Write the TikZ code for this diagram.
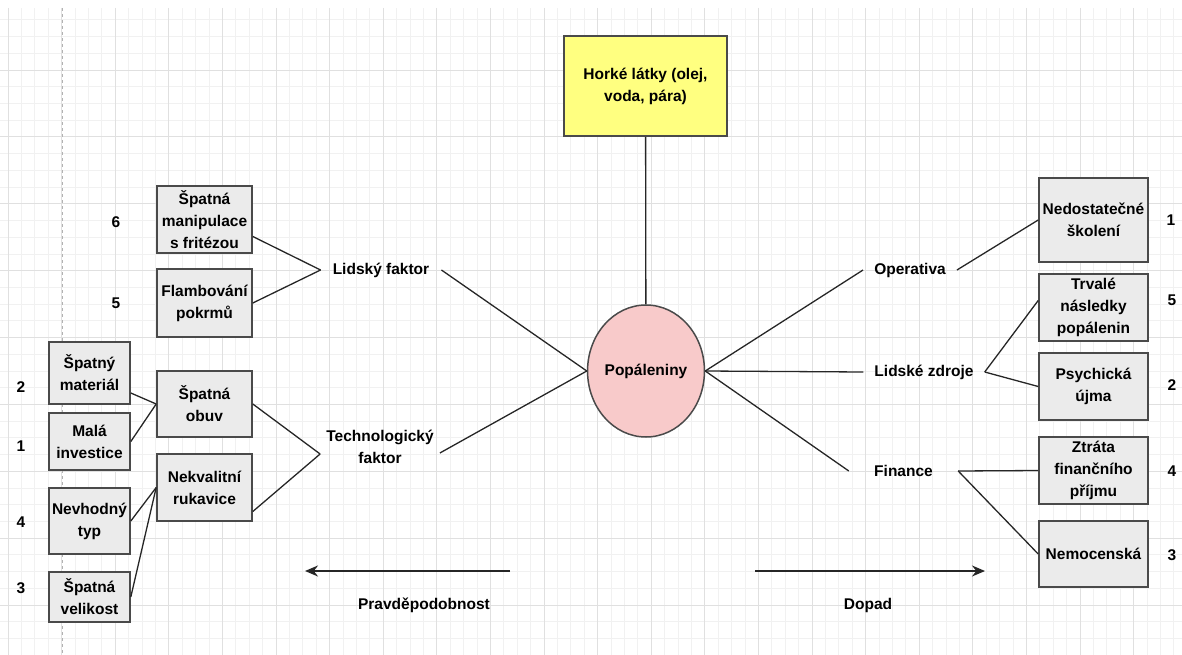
\documentclass[tikz,border=0pt]{standalone}
\usepackage{fontspec}
\setmainfont{Liberation Sans}
\usetikzlibrary{shapes.geometric,arrows.meta,positioning}
\definecolor{gridminor}{HTML}{F1F1F1}
\definecolor{gridmajor}{HTML}{E0E0E0}
\definecolor{boxgray}{HTML}{EBEBEB}
\definecolor{boxline}{HTML}{4A4A4A}
\definecolor{notey}{HTML}{FFFF80}
\definecolor{burnpink}{HTML}{F8CACA}
\newcommand{\gridbg}{%
	\foreach \i in {0,...,87}
		\draw[gridminor,line width=0.8pt] ({8+13.4*\i},8) -- ({8+13.4*\i},655);
	\foreach \j in {1,...,39}
		\draw[gridminor,line width=0.8pt] (0,{3.1+16.72*\j}) -- (1182,{3.1+16.72*\j});
	\foreach \i in {0,4,...,84}
		\draw[gridmajor,line width=0.9pt] ({8+13.4*\i},8) -- ({8+13.4*\i},655);
	\foreach \j in {4,8,...,36}
		\draw[gridmajor,line width=0.9pt] (0,{3.1+16.72*\j}) -- (1182,{3.1+16.72*\j});
	\draw[black!30,line width=1pt,dashed] (62,8) -- (62,655);
}
\newcommand{\score}[3]{%
	\node[inner sep=0pt] (#1) at (#2) {#3};
}

\begin{document}
\begin{tikzpicture}[x=1pt,y=-1pt,
		font=\bfseries\fontsize{15.5}{22}\selectfont,
		riskbox/.style 2 args={draw=boxline,line width=1.6pt,fill=boxgray,align=center,
			inner sep=0pt,minimum width=#1,minimum height=#2},
		lbl/.style={align=center,inner sep=9pt},
		wire/.style={draw=black!85,line width=1.3pt}]
		\useasboundingbox (0,0) rectangle (1182,655);
		\gridbg
		% centre
		\node[draw=boxline,line width=1.6pt,fill=notey,align=center,minimum width=163pt,minimum height=100pt] (hot) at (645.5,86) {Horké látky (olej,\\voda, pára)};
		\node[ellipse,draw=boxline,line width=1.5pt,fill=burnpink,minimum width=110pt,minimum height=132pt,inner sep=0pt] (burn) at (646,371) {Popáleniny};
		% left side
		\node[lbl,inner sep=12pt] (lf) at (381,270) {Lidský faktor};
		\node[lbl,inner sep=6pt] (tf) at (380,447) {Technologický\\faktor};
		\node[riskbox={95pt}{67pt}] (manip) at (204.5,219.5) {Špatná\\manipulace\\s fritézou};
		\node[riskbox={95pt}{68pt}] (flamb) at (204.5,303) {Flambování\\pokrmů};
		\node[riskbox={95pt}{66pt}] (obuv) at (204.5,404) {Špatná\\obuv};
		\node[riskbox={95pt}{67pt}] (ruk) at (204.5,487.5) {Nekvalitní\\rukavice};
		\node[riskbox={81pt}{62pt}] (mat) at (89.5,373) {Špatný\\materiál};
		\node[riskbox={81pt}{57pt}] (inv) at (89.5,441.5) {Malá\\investice};
		\node[riskbox={81pt}{66pt}] (typ) at (89.5,521) {Nevhodný\\typ};
		\node[riskbox={81pt}{50pt}] (vel) at (89.5,597) {Špatná\\velikost};
		\score{s6}{116,222}{6}
		\score{s5}{116,303}{5}
		\score{s2}{21,387}{2}
		\score{s1}{21,446}{1}
		\score{s4}{21,522}{4}
		\score{s3}{21,588}{3}
		% right side
		\node[lbl,inner sep=11pt] (op) at (910,270) {Operativa};
		\node[lbl,inner sep=11pt] (lz) at (924,372) {Lidské zdroje};
		\node[lbl,inner sep=0pt,minimum width=109pt] (fin) at (903.5,471) {Finance};
		\node[riskbox={109pt}{84pt}] (skol) at (1093.5,220) {Nedostatečné\\školení};
		\node[riskbox={109pt}{67pt}] (trv) at (1093.5,307.5) {Trvalé\\následky\\popálenin};
		\node[riskbox={109pt}{67pt}] (psy) at (1093.5,386.5) {Psychická\\újma};
		\node[riskbox={109pt}{67pt}] (ztr) at (1093.5,470.5) {Ztráta\\finančního\\příjmu};
		\node[riskbox={109pt}{66pt}] (nem) at (1093.5,554) {Nemocenská};
		\score{r1}{1171,220}{1}
		\score{r5}{1172,300}{5}
		\score{r2}{1172,385}{2}
		\score{r4}{1172,471}{4}
		\score{r3}{1172,555}{3}
		% links
		\draw[wire] (hot) -- (burn);
		\draw[wire] (lf.east) -- (burn.west);
		\draw[wire] ([yshift=-6pt]tf.east) -- (burn.west);
		\draw[wire] ([yshift=-17pt]manip.east) -- (lf.west);
		\draw[wire] (flamb.east) -- (lf.west);
		\draw[wire] (obuv.east) -- ([yshift=-7pt]tf.west);
		\draw[wire] ([yshift=-24pt]ruk.east) -- ([yshift=-7pt]tf.west);
		\draw[wire] ([yshift=-20pt]mat.east) -- (obuv.west);
		\draw[wire] (inv.east) -- (obuv.west);
		\draw[wire] (typ.east) -- (ruk.west);
		\draw[wire] (vel.east) -- (ruk.west);
		\draw[wire] (burn.east) -- (op.west);
		\draw[wire] (burn.east) -- (lz.west);
		\draw[wire] (burn.east) -- (fin.west);
		\draw[wire] (op.east) -- (skol.west);
		\draw[wire] (lz.east) -- ([yshift=7pt]trv.west);
		\draw[wire] (lz.east) -- (psy.west);
		\draw[wire] (fin.east) -- (ztr.west);
		\draw[wire] (fin.east) -- (nem.west);
		% axes
		\coordinate (pstart) at (510,571);
		\coordinate (pend) at (305,571);
		\coordinate (dstart) at (755,571);
		\coordinate (dend) at (985,571);
		\draw[wire,line width=1.8pt,-{Stealth[length=13pt,width=11pt]}] (pstart) -- (pend);
		\draw[wire,line width=1.8pt,-{Stealth[length=13pt,width=11pt]}] (dstart) -- (dend);
		\node (prav) at (424,605) {Pravděpodobnost};
		\node (dop) at (868,605) {Dopad};
	\end{tikzpicture}
\end{document}
